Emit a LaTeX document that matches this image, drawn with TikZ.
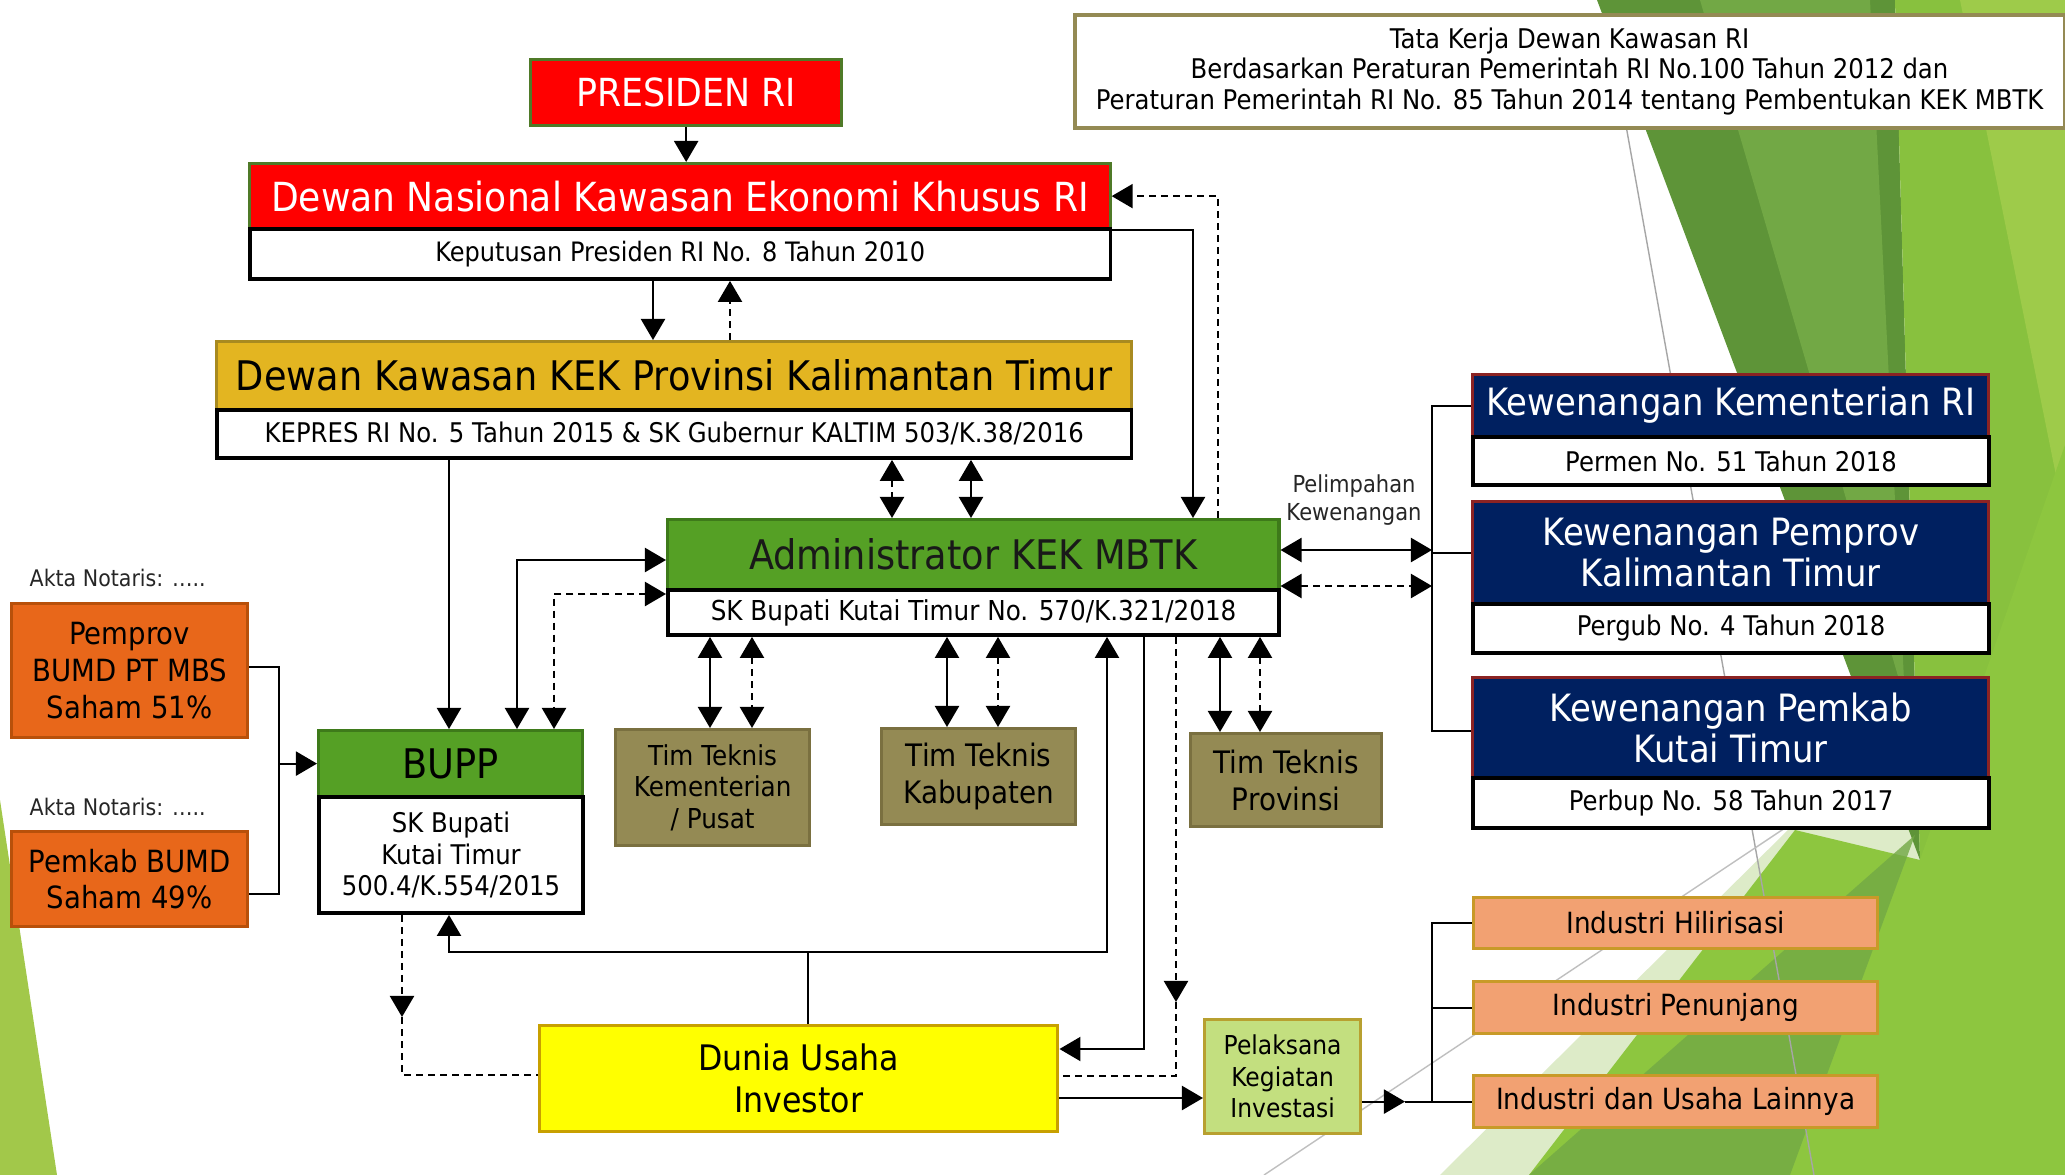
\documentclass[tikz,border=0pt]{standalone}
\usepackage{fontspec}
\setmainfont{DejaVu Sans}[FakeStretch=0.9]
\usetikzlibrary{arrows.meta,calc}
\definecolor{gdark}{HTML}{5E9438}
\definecolor{gmid}{HTML}{72A845}
\definecolor{gbright}{HTML}{8DC63F}
\definecolor{glight}{HTML}{9ECB4A}
\definecolor{gpale}{HTML}{DDEBC8}
\definecolor{gleft}{HTML}{A2C84A}
\definecolor{redf}{HTML}{FF0000}
\definecolor{redb}{HTML}{4F7A28}
\definecolor{goldf}{HTML}{E3B521}
\definecolor{goldb}{HTML}{A88A20}
\definecolor{admf}{HTML}{55A025}
\definecolor{admb}{HTML}{3E7A1A}
\definecolor{navyf}{HTML}{002060}
\definecolor{navyb}{HTML}{8B2323}
\definecolor{olivef}{HTML}{948A54}
\definecolor{oliveb}{HTML}{7A7040}
\definecolor{orangef}{HTML}{E8671A}
\definecolor{orangeb}{HTML}{B8500A}
\definecolor{yellowf}{HTML}{FFFF00}
\definecolor{yellowb}{HTML}{C8A000}
\definecolor{pelf}{HTML}{C3DF7F}
\definecolor{pelb}{HTML}{B8A030}
\definecolor{salf}{HTML}{F2A172}
\definecolor{salb}{HTML}{C89A28}
\newcommand\fsz[2]{\fontsize{#1pt}{#2pt}\selectfont}
\newcommand\mybox[7]{\node[box,#2,minimum width={(#5-#3)*0.1mm},minimum height={(#6-#4)*0.1mm}] (#1) at (#3,#4) {#7};}
\tikzset{
  box/.style={rectangle, inner sep=0pt, anchor=north west, align=center},
  hdr/.style={line width=0.9pt},
  sub/.style={draw=black, fill=white, line width=1.1pt},
  conn/.style={line width=0.6pt, black},
  arr/.style={-{Triangle[length=2.1mm,width=2.4mm]}},
  barr/.style={{Triangle[length=2.1mm,width=2.4mm]}-{Triangle[length=2.1mm,width=2.4mm]}},
  dsh/.style={dash pattern=on 0.7mm off 0.5mm},
}
\begin{document}
\begin{tikzpicture}[x=0.01cm,y=-0.01cm]
\fill[white] (0,0) rectangle (2065,1175);
\useasboundingbox (0,0) rectangle (2065,1175);
% background facets
\fill[gleft] (0,800) -- (57,1175) -- (0,1175) -- cycle;
\fill[gpale] (1440,1175) -- (1800,818) -- (1995,630) -- (2010,720) -- (1925,870) -- (1529,1175) -- cycle;
\fill[gdark] (1597,0) -- (1895,0) -- (1920,860) -- cycle;
\fill[gmid] (1700,0) -- (1870,0) -- (1905,700) -- cycle;
\fill[gbright!90!gdark] (1895,0) -- (2065,0) -- (2065,1175) -- (1920,860) -- cycle;
\fill[glight] (1960,0) -- (2065,0) -- (2065,520) -- cycle;
\fill[gbright] (1529,1175) -- (1795,830) -- (1920,860) -- (2065,445) -- (2065,1175) -- cycle;
\fill[gmid, opacity=0.8] (1529,1175) -- (1915,835) -- (1790,1175) -- cycle;
\draw[gray!70, line width=0.4pt] (1625,120) -- (1814,1175);
\draw[gray!50, line width=0.4pt] (1264,1175) -- (1800,818);
% title box
\mybox{title}{draw=olivef, fill=white, line width=1pt, font=\fsz{7.7}{8.7}}{1073}{13}{2062}{126}{Tata Kerja Dewan Kawasan RI\\Berdasarkan Peraturan Pemerintah RI No.100 Tahun 2012 dan\\Peraturan Pemerintah RI No. 85 Tahun 2014 tentang Pembentukan KEK MBTK}
% main boxes
\mybox{presiden}{hdr, draw=redb, fill=redf, text=white, font=\fsz{11}{13}}{529}{58}{840}{124}{PRESIDEN RI}
\mybox{dn}{hdr, draw=redb, fill=redf, text=white, font=\fsz{11.4}{13}}{248}{162}{1108}{227}{Dewan Nasional Kawasan Ekonomi Khusus RI}
\mybox{dns}{sub, font=\fsz{7.6}{9}}{248}{227}{1108}{277}{Keputusan Presiden RI No. 8 Tahun 2010}
\mybox{dk}{hdr, draw=goldb, fill=goldf, text=black, font=\fsz{11.6}{13}}{215}{340}{1129}{408}{Dewan Kawasan KEK Provinsi Kalimantan Timur}
\mybox{dks}{sub, font=\fsz{7.7}{9}}{215}{408}{1129}{456}{KEPRES RI No. 5 Tahun 2015 \& SK Gubernur KALTIM 503/K.38/2016}
\mybox{adm}{hdr, draw=admb, fill=admf, text=black!90, font=\fsz{11.6}{13}}{666}{518}{1277}{588}{Administrator KEK MBTK}
\mybox{adms}{sub, font=\fsz{7.8}{9}}{666}{588}{1277}{633}{SK Bupati Kutai Timur No. 570/K.321/2018}
\mybox{kem}{hdr, draw=navyb, fill=navyf, text=white, font=\fsz{10.7}{11.7}}{1471}{373}{1987}{435}{Kewenangan Kementerian RI}
\mybox{kems}{sub, font=\fsz{7.7}{9}}{1471}{435}{1987}{483}{Permen No. 51 Tahun 2018}
\mybox{prov}{hdr, draw=navyb, fill=navyf, text=white, font=\fsz{10.7}{11.7}}{1471}{500}{1987}{602}{Kewenangan Pemprov\\Kalimantan Timur}
\mybox{provs}{sub, font=\fsz{7.7}{9}}{1471}{602}{1987}{651}{Pergub No. 4 Tahun 2018}
\mybox{kab}{hdr, draw=navyb, fill=navyf, text=white, font=\fsz{10.7}{11.7}}{1471}{676}{1987}{776}{Kewenangan Pemkab\\Kutai Timur}
\mybox{kabs}{sub, font=\fsz{7.7}{9}}{1471}{776}{1987}{826}{Perbup No. 58 Tahun 2017}
\mybox{bupp}{hdr, draw=admb, fill=admf, text=black, font=\fsz{11.6}{13}}{317}{729}{581}{795}{BUPP}
\mybox{bupps}{sub, font=\fsz{7.7}{9}}{317}{795}{581}{911}{SK Bupati\\Kutai Timur\\500.4/K.554/2015}
\mybox{timkem}{hdr, draw=oliveb, fill=olivef, text=black, font=\fsz{7.8}{9}}{614}{728}{808}{844}{Tim Teknis\\Kementerian\\/ Pusat}
\mybox{timkab}{hdr, draw=oliveb, fill=olivef, text=black, font=\fsz{8.8}{10.5}}{880}{727}{1074}{823}{Tim Teknis\\Kabupaten}
\mybox{timprov}{hdr, draw=oliveb, fill=olivef, text=black, font=\fsz{8.8}{10.5}}{1189}{732}{1380}{825}{Tim Teknis\\Provinsi}
\mybox{pemprov}{hdr, draw=orangeb, fill=orangef, text=black, font=\fsz{8.7}{10.5}}{10}{602}{246}{736}{Pemprov\\BUMD PT MBS\\Saham 51\%}
\mybox{pemkab}{hdr, draw=orangeb, fill=orangef, text=black, font=\fsz{8.7}{10.5}}{10}{830}{246}{925}{Pemkab BUMD\\Saham 49\%}
\mybox{dunia}{hdr, draw=yellowb, fill=yellowf, text=black, font=\fsz{10}{12}}{538}{1024}{1056}{1130}{Dunia Usaha\\Investor}
\mybox{pel}{hdr, draw=pelb, fill=pelf, text=black, font=\fsz{7.4}{9}}{1203}{1018}{1359}{1132}{Pelaksana\\Kegiatan\\Investasi}
\mybox{hil}{hdr, draw=salb, fill=salf, text=black, font=\fsz{8.3}{10}}{1472}{896}{1876}{947}{Industri Hilirisasi}
\mybox{pen}{hdr, draw=salb, fill=salf, text=black, font=\fsz{8.3}{10}}{1472}{980}{1876}{1032}{Industri Penunjang}
\mybox{lain}{hdr, draw=salb, fill=salf, text=black, font=\fsz{8.3}{10}}{1472}{1074}{1876}{1126}{Industri dan Usaha Lainnya}
% labels
\node[anchor=west, inner sep=0pt, text=black!85, font=\fsz{6.5}{8}] (akta1) at (29,578) {Akta Notaris: …..};
\node[anchor=west, inner sep=0pt, text=black!85, font=\fsz{6.5}{8}] (akta2) at (29,807) {Akta Notaris: …..};
\node[align=center, inner sep=0pt, text=black!85, font=\fsz{6.65}{7.9}] (pelimp) at (1354,500) {Pelimpahan\\Kewenangan};
% connectors
\draw[conn,arr] (presiden.south) -- (presiden.south |- dn.north);
\draw[conn,arr] (653,0 |- dns.south) -- (653,0 |- dk.north);
\draw[conn,dsh,arr] (730,0 |- dk.north) -- (730,0 |- dns.south);
\draw[conn,dsh,barr] (892,0 |- dks.south) -- (892,0 |- adm.north);
\draw[conn,barr] (971,0 |- dks.south) -- (971,0 |- adm.north);
\draw[conn,arr] (dn.south east) -| (1193,0 |- adm.north);
\draw[conn,dsh,arr] (1218,0 |- adm.north) |- (dn.east);
\draw[conn,arr] (449,0 |- dks.south) -- (449,0 |- bupp.north);
\draw[conn,barr] (adm.west |- 0,560) -| (517,0 |- bupp.north);
\draw[conn,dsh,barr] (adm.west |- 0,594) -| (554,0 |- bupp.north);
\draw[conn] (pemprov.east |- 0,667) -- (279,667) -- (279,894) -- (pemkab.east |- 0,894);
\draw[conn,arr] (279,0 |- bupp.west) -- (bupp.west);
\draw[conn,barr] (710,0 |- adms.south) -- (710,0 |- timkem.north);
\draw[conn,dsh,barr] (752,0 |- adms.south) -- (752,0 |- timkem.north);
\draw[conn,barr] (947,0 |- adms.south) -- (947,0 |- timkab.north);
\draw[conn,dsh,barr] (998,0 |- adms.south) -- (998,0 |- timkab.north);
\draw[conn,barr] (1220,0 |- adms.south) -- (1220,0 |- timprov.north);
\draw[conn,dsh,barr] (1260,0 |- adms.south) -- (1260,0 |- timprov.north);
\coordinate (j) at (808,952);
\draw[conn] (808,0 |- dunia.north) -- (j);
\draw[conn,arr] (j) -| (449,0 |- bupps.south);
\draw[conn,arr] (j) -| (1107,0 |- adms.south);
\draw[conn,arr] (1144,0 |- adms.south) |- (dunia.east |- 0,1049);
\coordinate (d1) at (1176,1002);
\draw[conn,dsh,arr] (1176,0 |- adms.south) -- (d1);
\draw[conn,dsh] (d1) |- (dunia.east |- 0,1076);
\coordinate (d2) at (402,1017);
\draw[conn,dsh,arr] (402,0 |- bupps.south) -- (d2);
\draw[conn,dsh] (d2) |- (dunia.west |- 0,1075);
\draw[conn,arr] (dunia.east |- 0,1098) -- (pel.west |- 0,1098);
\coordinate (p1) at (1405,0 |- lain.west);
\draw[conn,arr] (pel.east |- p1) -- (p1);
\draw[conn] (p1) -- (lain.west);
\draw[conn] (hil.west) -| (1432,0 |- lain.west);
\draw[conn] (pen.west) -- (1432,0 |- pen.west);
\draw[conn] (kem.west) -- (1432,0 |- kem.west) -- (1432,731) -- (kab.west |- 0,731);
\draw[conn] (prov.west) -- (1432,0 |- prov.west);
\draw[conn,barr] (adm.east |- 0,550) -- (1432,550);
\draw[conn,dsh,barr] (adm.east |- 0,586) -- (1432,586);
\end{tikzpicture}
\end{document}
